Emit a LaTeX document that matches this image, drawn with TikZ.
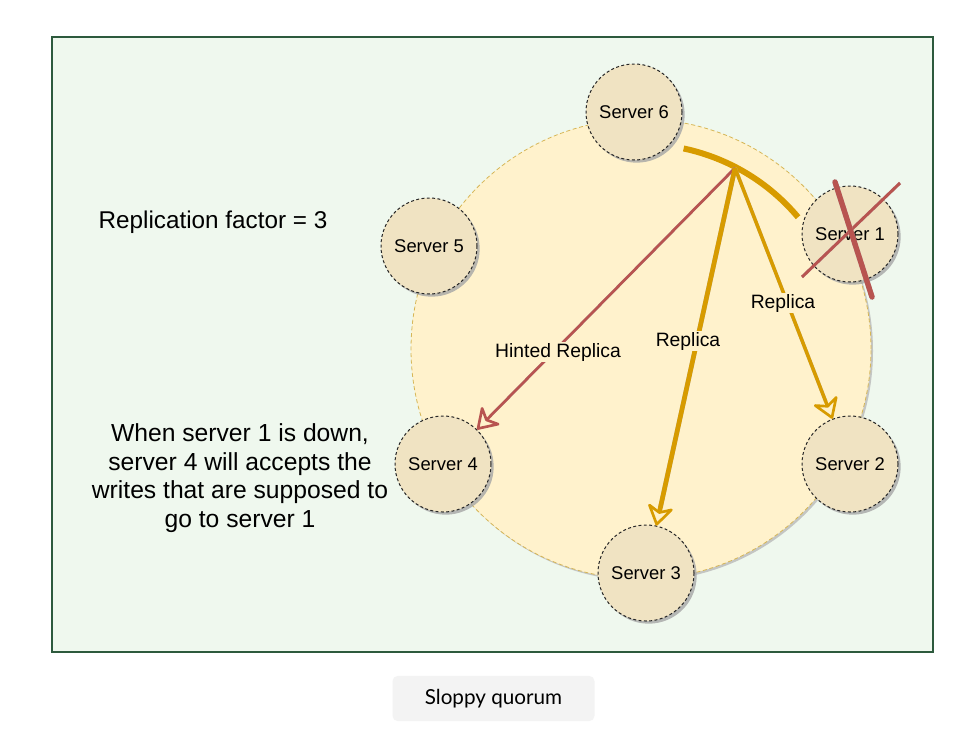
\documentclass[tikz,border=0pt]{standalone}
\usepackage{fontspec}
\setmainfont{Liberation Sans}
\newfontfamily\capfont{Lato}
\usetikzlibrary{arrows.meta,shadows,calc}
\definecolor{bgg}{HTML}{EFF8EE}
\definecolor{frm}{HTML}{2D5A3D}
\definecolor{ringf}{HTML}{FFF2CC}
\definecolor{rings}{HTML}{D6B656}
\definecolor{srvf}{HTML}{F0E3C2}
\definecolor{redc}{HTML}{B85450}
\definecolor{orc}{HTML}{D79B00}
\definecolor{capbg}{HTML}{F3F3F3}
\tikzset{
  server/.style={circle,draw=black!85,line width=0.75pt,dash pattern=on 2.2pt off 1.8pt,
    fill=srvf,minimum size=72pt,inner sep=0pt,
    font=\fontsize{13.8}{16}\selectfont,
    drop shadow={shadow xshift=2pt,shadow yshift=-2pt,fill=black!35,opacity=0.8}},
  lbl/.style={fill=ringf,inner sep=1pt,font=\fontsize{14.5}{17}\selectfont},
  openhead/.style={-{Stealth[open,length=17pt,width=22pt,inset=5pt,line width=2pt,round]}},
}
\begin{document}
\begin{tikzpicture}[x=0.75pt,y=-0.75pt]
\useasboundingbox (0,0) rectangle (969,751);
\fill[white] (0,0) rectangle (969,751);
% frame
\draw[frm,fill=bgg,line width=1.2pt] (52,37) rectangle (933,652);
% ring
\node[circle,minimum size=345pt,inner sep=0pt,draw=rings,dash pattern=on 3pt off 2pt,line width=0.6pt,fill=ringf,
  drop shadow={shadow xshift=1.5pt,shadow yshift=-1.5pt,fill=black!30,opacity=0.7}] (ring) at (641,349) {};
% thick arc
\draw[orc,line width=4.5pt] ($(641,349)+(-78:205)$) arc[start angle=-78,end angle=-40,radius=205];
% servers
\node[server] (s6) at (634,112) {Server 6};
\node[server] (s5) at (429,246) {Server 5};
\node[server] (s1) at (850,234) {Server 1};
\node[server] (s4) at (443,464) {Server 4};
\node[server] (s2) at (850,464) {Server 2};
\node[server] (s3) at (646,573) {Server 3};
\coordinate (hub) at (735,168);
% arrow shadows
\begin{scope}[shift={(2.5,2)}]
\draw[black!28,line width=2pt,shorten >=14pt] (hub) -- (s4);
\draw[black!28,line width=3.5pt,shorten >=14pt] (hub) -- (s3);
\draw[black!28,line width=2.6pt,shorten >=14pt] (hub) -- (s2);
\end{scope}
% arrows
\draw[redc,line width=2pt,openhead] (hub) -- (s4);
\draw[orc,line width=3.5pt,openhead] (hub) -- (s3);
\draw[orc,line width=2.6pt,openhead] (hub) -- (s2);
% labels
\node[lbl] (lh) at (558,352) {Hinted Replica};
\node[lbl] (lr3) at (688,341) {Replica};
\node[lbl] (lr2) at (783,303) {Replica};
% cross
\coordinate (c1a) at (835,182);
\coordinate (c1b) at (872,297);
\coordinate (c2a) at (900,183);
\coordinate (c2b) at (802,277);
\draw[black!28,line width=2.2pt,shift={(2,2)}] (c2a) -- (c2b);
\draw[redc,line width=2.2pt] (c2a) -- (c2b);
\draw[black!28,line width=4pt,shift={(2,2)},line cap=round] (c1a) -- (c1b);
\draw[redc,line width=4pt,line cap=round] (c1a) -- (c1b);
% texts
\node[font=\fontsize{18.2}{21}\selectfont] (rf) at (213,222) {Replication factor = 3};
\node[font=\fontsize{18.5}{21.5}\selectfont,align=center] (note) at (240,478)
 {When server 1 is down,\\server 4 will accepts the\\writes that are supposed to\\go to server 1};
% caption
\node[fill=capbg,rounded corners=4pt,minimum width=151.5pt,minimum height=34pt,
  font=\capfont\fontsize{15.5}{18}\selectfont] (cap) at (493.5,698.5) {Sloppy quorum};
\end{tikzpicture}
\end{document}
